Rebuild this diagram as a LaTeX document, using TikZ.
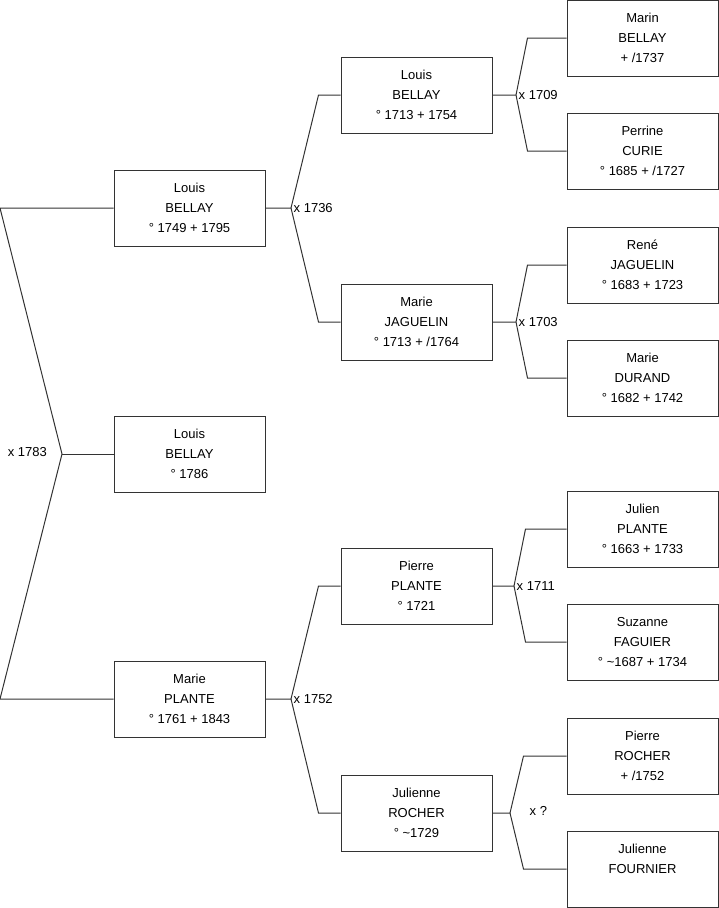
\documentclass[tikz,border=0pt]{standalone}
\usepackage{fontspec}
\setmainfont{Liberation Sans}
\usepackage{tikz}
\usetikzlibrary{calc}
\tikzset{
    mybox/.style={draw=black!80,line width=1pt,minimum width=151pt,minimum height=76pt,inner sep=0pt,align=center},
    myline/.style={draw=black!80,line width=1pt},
    mylabel/.style={inner sep=1.5pt,anchor=west},
    every node/.style={font=\fontsize{13}{20}\selectfont}
}

\begin{document}
\begin{tikzpicture}[x=1pt,y=-1pt]
  \useasboundingbox (0,0) rectangle (719,908);
  % generation 1
  \node[mybox] (lb1749) at (189.5,208) {Louis\\BELLAY\\° 1749 + 1795};
  \node[mybox] (lb1786) at (189.5,454) {Louis\\BELLAY\\° 1786};
  \node[mybox] (mp1761) at (189.5,699) {Marie\\PLANTE\\° 1761 + 1843};
  % generation 2
  \node[mybox] (lb1713) at (416.5,95) {Louis\\BELLAY\\° 1713 + 1754};
  \node[mybox] (mj1713) at (416.5,322) {Marie\\JAGUELIN\\° 1713 + /1764};
  \node[mybox] (pp1721) at (416.5,586) {Pierre\\PLANTE\\° 1721};
  \node[mybox] (jr1729) at (416.5,813) {Julienne\\ROCHER\\° \textasciitilde1729};
  % generation 3
  \node[mybox] (mb) at (642.5,38) {Marin\\BELLAY\\+ /1737};
  \node[mybox] (pc) at (642.5,151) {Perrine\\CURIE\\° 1685 + /1727};
  \node[mybox] (rj) at (642.5,265) {René\\JAGUELIN\\° 1683 + 1723};
  \node[mybox] (md) at (642.5,378) {Marie\\DURAND\\° 1682 + 1742};
  \node[mybox] (jp) at (642.5,529) {Julien\\PLANTE\\° 1663 + 1733};
  \node[mybox] (sf) at (642.5,642) {Suzanne\\FAGUIER\\° \textasciitilde1687 + 1734};
  \node[mybox] (pr) at (642.5,756) {Pierre\\ROCHER\\+ /1752};
  \node[mybox] (jf) at (642.5,869) {Julienne\\FOURNIER\\\mbox{}};

  % fork points
  \coordinate (f0) at (62,454);
  \coordinate (f1) at (291,208);
  \coordinate (f2) at (291,699);
  \coordinate (f3) at (516,95);
  \coordinate (f4) at (516,322);
  \coordinate (f5) at (514,586);
  \coordinate (f6) at (510,813);

  % marriage of the parents
  \draw[myline] (lb1749.west) -- (lb1749.west -| 0,0) -- (f0) -- (mp1761.west -| 0,0) -- (mp1761.west);
  \draw[myline] (f0) -- (lb1786.west);
  \node[anchor=east,inner sep=0pt] at ($(f0)+(-15,-2)$) {x 1783};

  % forks towards the ancestors
  \foreach \c/\f/\a/\b/\t/\d in {lb1749/f1/lb1713/mj1713/1736/22, mp1761/f2/pp1721/jr1729/1752/22,
      lb1713/f3/mb/pc/1709/39, mj1713/f4/rj/md/1703/39, pp1721/f5/jp/sf/1711/41}{
    \draw[myline] (\c.east) -- (\f) -- ([xshift=-\d pt]\a.west) -- (\a.west);
    \draw[myline] (\f) -- ([xshift=-\d pt]\b.west) -- (\b.west);
    \node[mylabel] at ([xshift=1pt]\f) {x \t};
  }
  \draw[myline] (jr1729.east) -- (f6) -- ([xshift=-43pt]pr.west) -- (pr.west);
  \draw[myline] (f6) -- ([xshift=-43pt]jf.west) -- (jf.west);
  \node[mylabel] at ($(f6)+(18,-2)$) {x ?};
\end{tikzpicture}
\end{document}
